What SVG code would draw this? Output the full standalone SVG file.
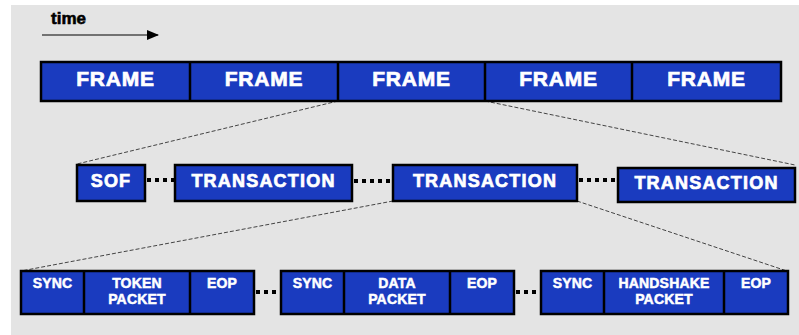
<svg xmlns="http://www.w3.org/2000/svg" width="799" height="335" viewBox="0 0 799 335">
<defs>
<style>
.box{fill:#1a3bbf;stroke:#000;stroke-width:2.5}
.div{stroke:#000;stroke-width:2.5}
.t{font-family:"Liberation Sans",Arial,sans-serif;font-weight:bold;fill:#fff;stroke:#fff;stroke-width:0.7;text-anchor:middle}
.big{font-size:21px;letter-spacing:0.8px}
.mid{font-size:18px;letter-spacing:1.2px}
.sm{font-size:14px;letter-spacing:0.2px;stroke-width:0.5}
.dots{stroke:#000;stroke-width:4;stroke-dasharray:4 4;fill:none}
.dash{stroke:#444;stroke-width:1;stroke-dasharray:4 2;fill:none}
</style>
<marker id="arr" markerWidth="12" markerHeight="10" refX="11" refY="5" orient="auto" markerUnits="userSpaceOnUse">
<path d="M0,0 L12,5 L0,10 Z" fill="#000"/>
</marker>
</defs>
<rect x="0" y="0" width="799" height="335" fill="#fff"/>
<rect x="11" y="5" width="788" height="330" fill="#e4e4e4"/>
<g id="time">
<text x="51" y="24" style="font-family:'Liberation Sans',Arial,sans-serif;font-weight:bold;font-size:17px" fill="#000" stroke="#000" stroke-width="0.6">time</text>
<line x1="42" y1="35" x2="158" y2="35" stroke="#000" stroke-width="1.2" marker-end="url(#arr)"/>
</g>
<g id="connectors">
<line class="dash" x1="338" y1="101" x2="77" y2="164"/>
<line class="dash" x1="485" y1="101" x2="795" y2="165"/>
<line class="dash" x1="393" y1="201" x2="21" y2="271"/>
<line class="dash" x1="577" y1="201" x2="787" y2="271"/>
<line class="dots" x1="147" y1="180" x2="175" y2="180"/>
<line class="dots" x1="354" y1="181" x2="393" y2="181"/>
<line class="dots" x1="579" y1="180" x2="618" y2="180"/>
<line class="dots" x1="256" y1="292" x2="281" y2="292"/>
<line class="dots" x1="516" y1="292" x2="541" y2="292"/>
</g>
<g id="frames">
<rect class="box" x="41" y="62" width="740" height="39"/>
<line class="div" x1="190" y1="62" x2="190" y2="101"/>
<line class="div" x1="338" y1="62" x2="338" y2="101"/>
<line class="div" x1="485" y1="62" x2="485" y2="101"/>
<line class="div" x1="632" y1="62" x2="632" y2="101"/>
<text class="t big" x="115.5" y="86">FRAME</text>
<text class="t big" x="264" y="86">FRAME</text>
<text class="t big" x="411.5" y="86">FRAME</text>
<text class="t big" x="558.5" y="86">FRAME</text>
<text class="t big" x="706.5" y="86">FRAME</text>
</g>
<g id="sof">
<rect class="box" x="77" y="165" width="68" height="36"/>
<text class="t mid" x="111" y="187">SOF</text>
</g>
<g id="transaction1">
<rect class="box" x="175" y="165" width="177" height="36"/>
<text class="t mid" x="263.5" y="187">TRANSACTION</text>
</g>
<g id="transaction2">
<rect class="box" x="393" y="165" width="184" height="36"/>
<text class="t mid" x="485" y="187">TRANSACTION</text>
</g>
<g id="transaction3">
<rect class="box" x="618" y="168" width="177" height="34"/>
<text class="t mid" x="706.5" y="189">TRANSACTION</text>
</g>
<g id="packet1">
<rect class="box" x="21" y="271" width="233" height="43"/>
<line class="div" x1="84" y1="271" x2="84" y2="314"/>
<line class="div" x1="190" y1="271" x2="190" y2="314"/>
<text class="t sm" x="52.5" y="288">SYNC</text>
<text class="t sm" x="137" y="288">TOKEN</text>
<text class="t sm" x="137" y="304">PACKET</text>
<text class="t sm" x="222" y="288">EOP</text>
</g>
<g id="packet2">
<rect class="box" x="281" y="271" width="233" height="43"/>
<line class="div" x1="344" y1="271" x2="344" y2="314"/>
<line class="div" x1="450" y1="271" x2="450" y2="314"/>
<text class="t sm" x="312.5" y="288">SYNC</text>
<text class="t sm" x="397" y="288">DATA</text>
<text class="t sm" x="397" y="304">PACKET</text>
<text class="t sm" x="482" y="288">EOP</text>
</g>
<g id="packet3">
<rect class="box" x="541" y="271" width="247" height="43"/>
<line class="div" x1="604" y1="271" x2="604" y2="314"/>
<line class="div" x1="724" y1="271" x2="724" y2="314"/>
<text class="t sm" x="572.5" y="288">SYNC</text>
<text class="t sm" x="664" y="288">HANDSHAKE</text>
<text class="t sm" x="664" y="304">PACKET</text>
<text class="t sm" x="756" y="288">EOP</text>
</g>
</svg>
